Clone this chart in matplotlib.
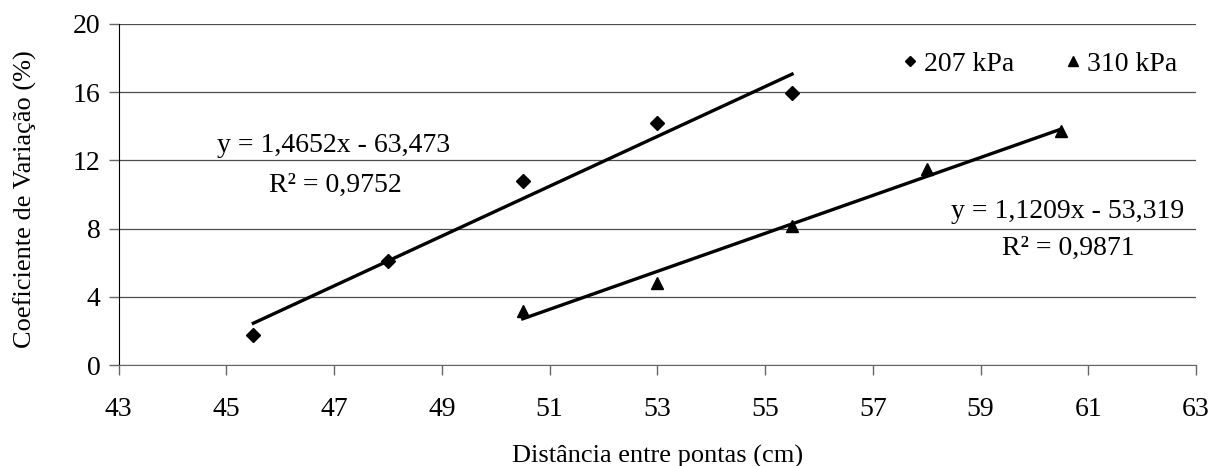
# Coeficiente de variação vs distância entre pontas, two pressures with linear trend lines
import numpy as np
import matplotlib
matplotlib.use("Agg")
import matplotlib.pyplot as plt

plt.rcParams["font.family"] = ["Liberation Serif", "DejaVu Serif"]

# data
x_207 = [45.5, 48.0, 50.5, 53.0, 55.5]
y_207 = [1.75, 6.08, 10.8, 14.2, 15.95]
x_310 = [50.5, 53.0, 55.5, 58.0, 60.5]
y_310 = [3.16, 4.83, 8.15, 11.5, 13.74]
labels = ["207 kPa", "310 kPa"]
eq_207 = ["y = 1,4652x - 63,473", "R² = 0,9752"]
eq_310 = ["y = 1,1209x - 53,319", "R² = 0,9871"]
xticks = np.arange(43, 64, 2)
yticks = np.arange(0, 21, 4)

W, H = 1215, 466
fig = plt.figure(figsize=(W / 100, H / 100), dpi=100)
ax = fig.add_axes([0.0977, 0.2167, 0.8867, 0.7318])

for xs, ys, mk, ms, lab in [(x_207, y_207, "D", 7, labels[0]),
                            (x_310, y_310, "^", 9, labels[1])]:
    ax.plot(xs, ys, ls="none", marker=mk, ms=ms, color="black", label=lab)
    a, b = np.polyfit(xs, ys, 1)            # trend line like the spreadsheet
    xx = np.array([xs[0], xs[-1]])
    ax.plot(xx, a * xx + b, color="black", lw=2.4)

def ftext(px, py, s):                        # place text by pixel position (top-left origin)
    fig.text(px / W, 1 - py / H, s, fontsize=20, ha="center", va="center")

ftext(334, 145, eq_207[0])
ftext(335, 185, eq_207[1])
ftext(1068, 212, eq_310[0])
ftext(1068, 248, eq_310[1])

ax.set_xlim(43, 63)
ax.set_ylim(0, 20)
ax.set_xticks(xticks)
ax.set_yticks(yticks)
ax.tick_params(labelsize=20, length=7, width=1, color="0.4")
ax.tick_params(axis="x", pad=16)
ax.tick_params(axis="y", pad=6)
ax.grid(axis="y", color="0.3", lw=0.9)
ax.set_axisbelow(True)
for s in ["top", "right"]:
    ax.spines[s].set_visible(False)
ax.spines["left"].set_color("black")
ax.spines["bottom"].set_color("0.4")
ax.set_ylabel("Coeficiente de Variação (%)", fontsize=19)
ax.set_xlabel("Distância entre pontas (cm)", fontsize=19)
ax.yaxis.set_label_coords(-0.076, 0.485)
ax.xaxis.set_label_coords(0.5, -0.235)

ax.legend(loc="center right", bbox_to_anchor=(0.995, 0.883), ncol=2, frameon=False,
          fontsize=20, handletextpad=0.0, columnspacing=1.6, handlelength=1.0,
          borderpad=0.0, markerscale=0.8)

fig.savefig("out.png", dpi=100)
